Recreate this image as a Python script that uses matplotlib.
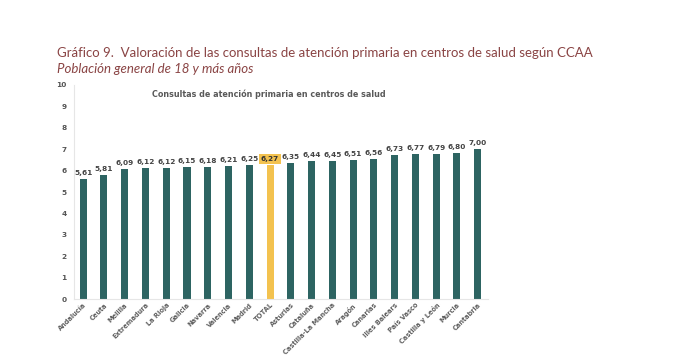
import matplotlib
matplotlib.use("Agg")
import matplotlib.pyplot as plt

regiones = ["Andalucía", "Ceuta", "Melilla", "Extremadura", "La Rioja", "Galicia",
            "Navarra", "Valencia", "Madrid", "TOTAL", "Asturias", "Cataluña",
            "Castilla-La Mancha", "Aragón", "Canarias", "Illes Balears", "País Vasco",
            "Castilla y León", "Murcia", "Cantabria"]
valores = [5.61, 5.81, 6.09, 6.12, 6.12, 6.15, 6.18, 6.21, 6.25, 6.27,
           6.35, 6.44, 6.45, 6.51, 6.56, 6.73, 6.77, 6.79, 6.80, 7.00]
yticks = list(range(0, 11))

verde = "#2d6462"
amarillo = "#f3c24f"
gris = "#555555"

fig = plt.figure(figsize=(6.77, 3.63), dpi=100)
ax = fig.add_axes([0.109, 0.176, 0.612, 0.59])

colores = [amarillo if r == "TOTAL" else verde for r in regiones]
x = list(range(len(regiones)))
ax.bar(x, valores, width=0.34, color=colores, zorder=2)

for xi, v, r in zip(x, valores, regiones):
    txt = f"{v:.2f}".replace(".", ",")
    if r == "TOTAL":
        ax.text(xi, v + 0.14, txt, ha="center", va="bottom", fontsize=5.3,
                fontweight="bold", color="#333333",
                bbox=dict(boxstyle="square,pad=0.25", fc=amarillo, ec="none"))
    else:
        ax.text(xi, v + 0.14, txt, ha="center", va="bottom", fontsize=5.3,
                fontweight="bold", color="#444444")

ax.set_xlim(-0.45, 19.5)
ax.set_ylim(0, 10)
ax.set_yticks(yticks)
ax.set_yticklabels([str(t) for t in yticks], fontsize=5.3, fontweight="bold", color=gris)
ax.set_xticks(x)
ax.set_xticklabels(regiones, rotation=45, ha="right", rotation_mode="anchor",
                   fontsize=4.8, fontweight="bold", color="#606060")
ax.tick_params(axis="x", length=0, pad=2)
ax.tick_params(axis="y", length=0, pad=5)
for s in ["top", "right"]:
    ax.spines[s].set_visible(False)
ax.spines["left"].set_color("#e6e6e6")
ax.spines["bottom"].set_color("#e6e6e6")

ax.text(0.47, 0.955, "Consultas de atención primaria en centros de salud",
        transform=ax.transAxes, ha="center", va="center", fontsize=5.8,
        fontweight="bold", color="#595959")

fig.text(0.084, 0.853, "Gráfico 9.  Valoración de las consultas de atención primaria en centros de salud según CCAA",
         fontsize=9.55, color="#8a4444", family="Lato", va="center")
fig.text(0.084, 0.81, "Población general de 18 y más años",
         fontsize=9.55, color="#8a4444", family="Lato", style="italic", va="center")

fig.savefig("out.png", dpi=100)
